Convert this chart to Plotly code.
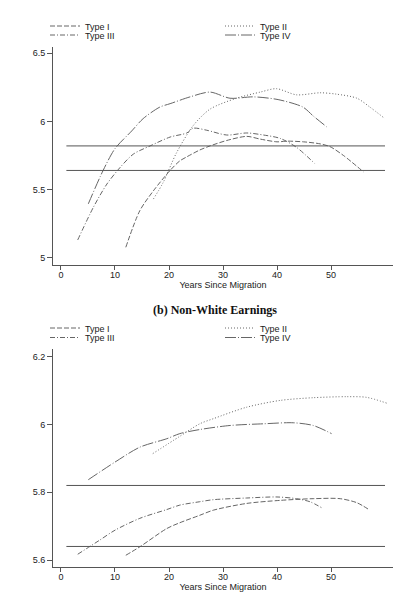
import plotly.graph_objects as go

# ---------------- data ----------------
# Panel (a): top panel
a_type1_x = [12, 14.6, 17.1, 20.2, 22, 23.3, 25.7, 27.6, 30.7, 34.4, 36.9, 40, 41.8, 44.9, 48, 49.8, 52.3, 56]
a_type1_y = [5.076, 5.345, 5.49, 5.64, 5.71, 5.74, 5.79, 5.82, 5.86, 5.89, 5.87, 5.85, 5.855, 5.85, 5.835, 5.815, 5.75, 5.63]

a_type2_x = [17.1, 18.9, 21.4, 24.5, 27.6, 32.5, 36.9, 39.9, 43.6, 48, 51, 54.8, 57.2, 60]
a_type2_y = [5.43, 5.55, 5.77, 5.97, 6.09, 6.17, 6.215, 6.24, 6.195, 6.21, 6.2, 6.17, 6.105, 6.02]

a_type3_x = [3.1, 6, 8.5, 10.9, 13.4, 16.5, 20.2, 23.3, 24.5, 27, 30.7, 34.4, 37.5, 40.6, 43.6, 47]
a_type3_y = [5.13, 5.37, 5.54, 5.66, 5.76, 5.82, 5.885, 5.915, 5.95, 5.935, 5.90, 5.915, 5.90, 5.875, 5.81, 5.69]

a_type4_x = [5.06, 7.8, 10, 13.1, 15.2, 18.3, 20.2, 23.9, 27.6, 31.3, 35.6, 40.2, 44.8, 46.7, 49.2]
a_type4_y = [5.395, 5.64, 5.80, 5.93, 6.02, 6.105, 6.13, 6.18, 6.215, 6.17, 6.18, 6.16, 6.105, 6.04, 5.96]

# Panel (b): non-white earnings
b_type1_x = [12, 14.6, 19.6, 22, 25.7, 28.2, 34.4, 40.6, 46.7, 51.7, 54.8, 57.2]
b_type1_y = [5.614, 5.639, 5.693, 5.71, 5.732, 5.747, 5.767, 5.776, 5.781, 5.781, 5.769, 5.747]

b_type2_x = [17, 22, 25.7, 28.2, 34.4, 40.6, 46.7, 52.9, 56.6, 60.3]
b_type2_y = [5.914, 5.965, 6.002, 6.017, 6.051, 6.071, 6.079, 6.082, 6.08, 6.063]

b_type3_x = [3.1, 7.2, 10, 14.6, 19.6, 22, 25.7, 28.2, 34.4, 40, 43.6, 46.1, 48.3]
b_type3_y = [5.617, 5.659, 5.688, 5.723, 5.749, 5.762, 5.772, 5.778, 5.783, 5.786, 5.781, 5.772, 5.754]

b_type4_x = [5.06, 10, 14.6, 19.6, 22, 25.7, 31.3, 37.5, 43, 46.7, 50.1]
b_type4_y = [5.837, 5.889, 5.933, 5.958, 5.973, 5.985, 5.997, 6.002, 6.005, 5.997, 5.973]

ref_x = [1, 60]
ref_hi = [5.82, 5.82]
ref_lo = [5.64, 5.64]

names = ["Type I", "Type II", "Type III", "Type IV"]
dashes = ["5px,2px", "1px,2px", "5px,2px,1px,2px", "11px,2px,1px,2px"]

x_ticks = [0, 10, 20, 30, 40, 50]
a_yticks = [5, 5.5, 6, 6.5]
a_ylabels = ["5", "5.5", "6", "6.5"]
b_yticks = [5.6, 5.8, 6, 6.2]
b_ylabels = ["5.6", "5.8", "6", "6.2"]

W, H = 395, 603
CURVE = "#666666"
AXIS = "#555555"
FONT = "Liberation Sans, Arial, sans-serif"

fig = go.Figure()

panels = [
    ("x", "y", [(a_type1_x, a_type1_y), (a_type2_x, a_type2_y), (a_type3_x, a_type3_y), (a_type4_x, a_type4_y)],
     ["legend", "legend", "legend2", "legend2"]),
    ("x2", "y2", [(b_type1_x, b_type1_y), (b_type2_x, b_type2_y), (b_type3_x, b_type3_y), (b_type4_x, b_type4_y)],
     ["legend3", "legend3", "legend4", "legend4"]),
]

for xa, ya, series, legs in panels:
    for (xs, ys), nm, ds, lg in zip(series, names, dashes, legs):
        fig.add_trace(go.Scatter(
            x=xs, y=ys, name=nm, mode="lines", xaxis=xa, yaxis=ya,
            line=dict(color=CURVE, width=1, dash=ds, shape="spline", smoothing=0.8),
            legend=lg, showlegend=True))
    for ry in (ref_hi, ref_lo):
        fig.add_trace(go.Scatter(
            x=ref_x, y=ry, mode="lines", xaxis=xa, yaxis=ya,
            line=dict(color="#555555", width=1), showlegend=False, hoverinfo="skip"))

def px_x(p):
    return p / W

def px_y(p):
    return 1 - p / H

axis_common = dict(showline=True, linecolor=AXIS, linewidth=1, ticks="outside",
                   tickcolor=AXIS, tickwidth=1, showgrid=False, zeroline=False,
                   tickfont=dict(family=FONT, size=9, color="#222222"))

xrange = [-1.48, 61.48]
xdom = [px_x(53), px_x(393)]
xtitle = dict(text="Years Since Migration", standoff=1,
              font=dict(family=FONT, size=9, color="#222222"))

fig.update_layout(
    width=W, height=H, margin=dict(l=0, r=0, t=0, b=0),
    paper_bgcolor="white", plot_bgcolor="white",
    font=dict(family=FONT, size=9, color="#222222"),
    xaxis=dict(domain=xdom, range=xrange, tickvals=x_ticks, anchor="y", ticklen=4,
               ticklabelstandoff=-3, title=xtitle, **axis_common),
    yaxis=dict(domain=[px_y(265), px_y(47)], range=[4.946, 6.546], tickvals=a_yticks,
               ticktext=a_ylabels, anchor="x", ticklen=5, **axis_common),
    xaxis2=dict(domain=xdom, range=xrange, tickvals=x_ticks, anchor="y2", ticklen=4,
                ticklabelstandoff=-3, title=xtitle, **axis_common),
    yaxis2=dict(domain=[px_y(567.3), px_y(349)], range=[5.5785, 6.2227], tickvals=b_yticks,
                ticktext=b_ylabels, anchor="x2", ticklen=5, **axis_common),
    annotations=[dict(text="<b>(b) Non-White Earnings</b>", x=px_x(215), y=px_y(310),
                      xref="paper", yref="paper", showarrow=False, xanchor="center",
                      yanchor="middle",
                      font=dict(family="Liberation Serif, Times New Roman, serif", size=12,
                                color="#111111"))],
)

leg_common = dict(orientation="h", xanchor="left", yanchor="middle", x=px_x(51),
                  entrywidth=130, entrywidthmode="pixels", bgcolor="rgba(0,0,0,0)",
                  borderwidth=0, font=dict(family=FONT, size=9, color="#222222"),
                  itemclick=False, itemdoubleclick=False)
fig.update_layout(
    legend=dict(y=px_y(26), **leg_common),
    legend2=dict(y=px_y(35), **leg_common),
    legend3=dict(y=px_y(328), **leg_common),
    legend4=dict(y=px_y(337.5), **leg_common),
)

fig.write_html("out.html")
